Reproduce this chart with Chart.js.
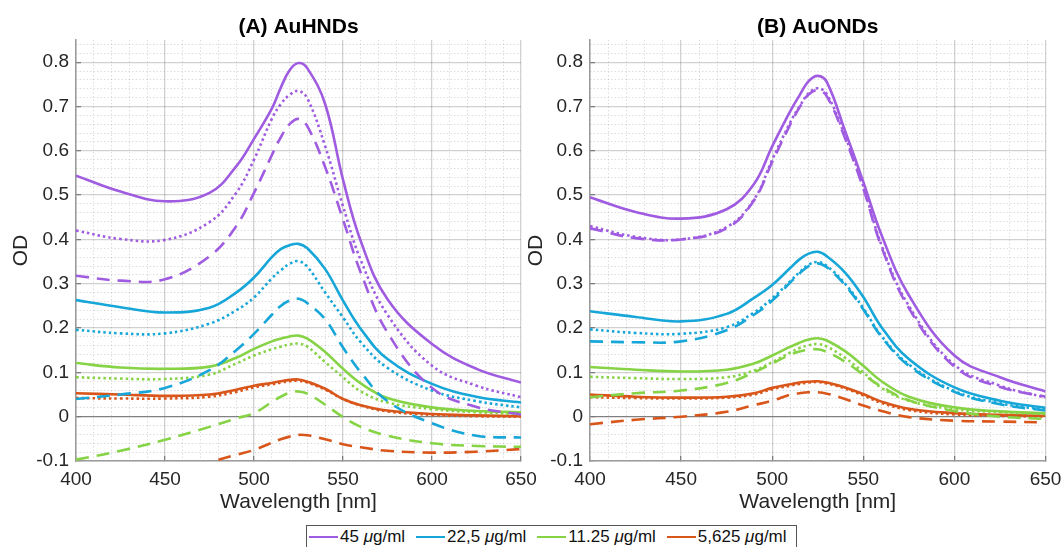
<!DOCTYPE html>
<html>
<head>
<meta charset="utf-8">
<script src="https://cdn.jsdelivr.net/npm/chart.js@4.4.1/dist/chart.umd.min.js"></script>
<style>
  body { margin: 0; background: #fff; }
  #wrap { position: relative; width: 1062px; height: 547px; overflow: hidden; font-family: "Liberation Sans", Arial, sans-serif; }
  #left { position: absolute; left: 0; top: 0; }
  #right { position: absolute; left: 515px; top: 0; }
  #legend { position: absolute; left: 306px; top: 525px; width: 491px; height: 24px; border: 1px solid #555; background: #fff;
            display: flex; align-items: center; font-size: 17px; color: #111; box-sizing: border-box; padding-left: 2px; }
  .item { display: flex; align-items: center; margin-right: 11px; white-space: nowrap; }
  .swatch { width: 29px; height: 0; border-top: 2.6px solid; margin-right: 2px; }
</style>
</head>
<body>
<div id="wrap">
  <canvas id="left" width="555" height="520"></canvas>
  <canvas id="right" width="565" height="520"></canvas>
  <div id="legend"></div>
</div>
<script>
// wavelength samples (nm)
const wavelength = [400,425,450,475,490,500,510,515,520,525,530,540,550,560,575,600,625,650];
const xTicks = [400,450,500,550,600,650];
const yTicks = [-0.1,0,0.1,0.2,0.3,0.4,0.5,0.6,0.7,0.8];
const concLabels = ["45", "22,5", "11.25", "5,625"];
const colors = ["#a05ce0", "#17a6d8", "#86d346", "#d9561b"];

// (A) AuHNDs : solid, dotted, dashed
const a45s    = [0.544,0.508,0.486,0.505,0.565,0.627,0.695,0.742,0.782,0.798,0.786,0.705,0.535,0.396,0.265,0.164,0.108,0.077];
const a45d    = [0.42,0.401,0.399,0.439,0.505,0.58,0.672,0.705,0.726,0.735,0.718,0.61,0.475,0.353,0.23,0.115,0.07,0.044];
const a45dash = [0.318,0.307,0.31,0.362,0.43,0.505,0.59,0.63,0.66,0.672,0.655,0.563,0.445,0.325,0.19,0.065,0.022,0.005];
const a22s    = [0.263,0.247,0.235,0.246,0.28,0.314,0.36,0.378,0.387,0.39,0.38,0.333,0.262,0.198,0.13,0.074,0.045,0.032];
const a22d    = [0.196,0.188,0.188,0.21,0.24,0.269,0.312,0.33,0.345,0.351,0.338,0.28,0.224,0.168,0.11,0.059,0.035,0.021];
const a22dash = [0.04,0.05,0.065,0.105,0.15,0.187,0.23,0.25,0.262,0.266,0.256,0.22,0.156,0.10,0.035,-0.015,-0.043,-0.047];
const a11s    = [0.121,0.111,0.108,0.113,0.133,0.153,0.17,0.176,0.181,0.183,0.176,0.146,0.108,0.075,0.042,0.021,0.013,0.01];
const a11d    = [0.089,0.086,0.085,0.095,0.12,0.138,0.152,0.158,0.163,0.165,0.158,0.123,0.089,0.057,0.032,0.017,0.01,0.006];
const a11dash = [-0.097,-0.077,-0.052,-0.023,-0.004,0.008,0.033,0.045,0.054,0.057,0.052,0.027,-0.001,-0.023,-0.043,-0.06,-0.066,-0.068];
const a5s     = [0.053,0.05,0.047,0.05,0.061,0.07,0.076,0.08,0.083,0.084,0.079,0.063,0.04,0.026,0.014,0.006,0.003,0.001];
const a5d     = [0.042,0.041,0.041,0.045,0.056,0.066,0.073,0.077,0.08,0.081,0.077,0.061,0.04,0.025,0.012,0.004,0.001,0.0];
const a5dash  = [-0.18,-0.155,-0.13,-0.103,-0.086,-0.075,-0.059,-0.051,-0.045,-0.041,-0.042,-0.051,-0.062,-0.069,-0.077,-0.081,-0.079,-0.073];

// (B) AuONDs : solid, dotted, dashed
const b45s    = [0.495,0.462,0.447,0.468,0.525,0.61,0.69,0.725,0.757,0.769,0.755,0.645,0.53,0.41,0.274,0.138,0.089,0.057];
const b45d    = [0.43,0.406,0.40,0.428,0.49,0.58,0.665,0.70,0.73,0.741,0.728,0.633,0.52,0.387,0.25,0.117,0.07,0.043];
const b45dash = [0.425,0.403,0.40,0.425,0.488,0.575,0.66,0.698,0.727,0.737,0.723,0.628,0.515,0.383,0.245,0.113,0.067,0.045];
const b22s    = [0.238,0.225,0.215,0.232,0.268,0.297,0.336,0.355,0.368,0.372,0.362,0.325,0.27,0.202,0.13,0.066,0.036,0.02];
const b22d    = [0.197,0.189,0.187,0.202,0.235,0.267,0.306,0.326,0.343,0.349,0.34,0.3,0.245,0.182,0.118,0.058,0.03,0.016];
const b22dash = [0.17,0.168,0.17,0.195,0.23,0.262,0.303,0.323,0.34,0.346,0.337,0.297,0.242,0.18,0.115,0.056,0.028,0.014];
const b11s    = [0.112,0.106,0.102,0.106,0.12,0.138,0.158,0.167,0.174,0.177,0.172,0.148,0.115,0.08,0.045,0.021,0.012,0.008];
const b11d    = [0.09,0.087,0.085,0.089,0.104,0.123,0.145,0.155,0.161,0.164,0.158,0.133,0.1,0.065,0.036,0.017,0.01,0.006];
const b11dash = [0.044,0.053,0.059,0.076,0.1,0.12,0.14,0.147,0.151,0.152,0.146,0.124,0.095,0.068,0.037,0.013,0.0,-0.005];
const b5s     = [0.05,0.045,0.043,0.045,0.053,0.065,0.073,0.077,0.079,0.08,0.077,0.066,0.051,0.034,0.018,0.008,0.004,0.002];
const b5d     = [0.044,0.042,0.041,0.043,0.05,0.062,0.07,0.074,0.077,0.078,0.075,0.064,0.048,0.031,0.015,0.005,0.002,0.0];
const b5dash  = [-0.017,-0.007,0.0,0.011,0.026,0.036,0.05,0.053,0.055,0.055,0.052,0.04,0.025,0.013,-0.001,-0.009,-0.011,-0.013];

const groupsA = [[a45s,a45d,a45dash],[a22s,a22d,a22dash],[a11s,a11d,a11dash],[a5s,a5d,a5dash]];
const groupsB = [[b45s,b45d,b45dash],[b22s,b22d,b22dash],[b11s,b11d,b11dash],[b5s,b5d,b5dash]];

const FONT = '"Liberation Sans", Arial, sans-serif';
const dashes = [[], [2.5, 3], [13, 8]];

// minor grid positions
let xMinor = [];
for (let v = 400; v <= 650; v += 10) xMinor.push(v);
let yMinor = [];
for (let i = -5; i <= 42; i++) yMinor.push(i / 50);

const buildSets = (groups) => {
  let sets = [];
  groups.forEach((g, ci) => {
    g.forEach((vals, si) => {
      sets.push({
        data: wavelength.map((w, i) => ({x: w, y: vals[i]})),
        borderColor: colors[ci],
        borderWidth: 2.6,
        borderDash: dashes[si],
        pointRadius: 0,
        tension: 0.4,
        fill: false,
        xAxisID: "x",
        yAxisID: "y",
      });
    });
  });
  return sets;
};

const newChart = (id, title, groups, yWidth, padRight) => {
  return new Chart(id, {
    type: "line",
    data: { datasets: buildSets(groups) },
    options: {
      responsive: false,
      animation: false,
      layout: { padding: { left: 0, right: padRight, top: 0, bottom: 0 } },
      plugins: {
        legend: { display: false },
        tooltip: { enabled: false },
        title: {
          display: true, text: title, fullSize: false, color: "#000",
          font: { family: FONT, size: 21, weight: "bold" },
          padding: { top: 14.4, bottom: 0.4 },
        },
      },
      scales: {
        xm: {
          type: "linear", position: "bottom", min: 400, max: 650,
          afterBuildTicks: (s) => { s.ticks = xMinor.map((v) => ({value: v})); },
          ticks: { display: false },
          grid: { color: (c) => (c.tick && c.tick.value % 50 === 0 ? "rgba(0,0,0,0)" : "rgba(0,0,0,0.13)"), lineWidth: 1, drawTicks: false },
          border: { display: false, dash: [1.5, 2] },
          afterFit: (s) => { s.height = 0; },
        },
        ym: {
          type: "linear", position: "left", min: -0.1, max: 0.85,
          afterBuildTicks: (s) => { s.ticks = yMinor.map((v) => ({value: v})); },
          ticks: { display: false },
          grid: { color: (c) => (c.tick && Math.abs(c.tick.value * 10 - Math.round(c.tick.value * 10)) < 1e-6 ? "rgba(0,0,0,0)" : "rgba(0,0,0,0.13)"), lineWidth: 1, drawTicks: false },
          border: { display: false, dash: [1.5, 2] },
          afterFit: (s) => { s.width = 0; },
        },
        x: {
          type: "linear", position: "bottom", min: 400, max: 650,
          afterBuildTicks: (s) => { s.ticks = xTicks.map((v) => ({value: v})); },
          ticks: { color: "#262626", font: { family: FONT, size: 19 }, padding: 12, maxRotation: 0, autoSkip: false, callback: (v) => v },
          grid: { color: "rgba(0,0,0,0.18)", lineWidth: 1.3, drawTicks: true, tickLength: -5, tickColor: "#777", tickWidth: 1.2 },
          border: { color: "#9a9a9a", width: 1.5 },
          title: { display: true, text: "Wavelength [nm]", color: "#262626", font: { family: FONT, size: 21 }, padding: { top: 0, bottom: 5 } },
          afterFit: (s) => { s.height = 59; },
        },
        y: {
          type: "linear", position: "left", min: -0.1, max: 0.85,
          afterBuildTicks: (s) => { s.ticks = yTicks.map((v) => ({value: v})); },
          ticks: { color: "#262626", font: { family: FONT, size: 19 }, padding: 12, autoSkip: false,
                   callback: (v) => (Math.abs(v) < 1e-9 ? "0" : v.toFixed(1)) },
          grid: {
            color: (c) => (c.tick && Math.abs(c.tick.value) < 1e-9 ? "#808080" : "rgba(0,0,0,0.18)"),
            lineWidth: 1.3, drawTicks: true, tickLength: -5, tickColor: "#777", tickWidth: 1.2,
          },
          border: { color: "#9a9a9a", width: 1.5 },
          title: { display: true, text: "OD", color: "#262626", font: { family: FONT, size: 21 }, padding: { top: 8.4, bottom: 0 } },
          afterFit: (s) => { s.width = yWidth; },
        },
      },
    },
  });
};

// canvas widths leave room so that the "650" label never pushes the plot area in
newChart("left", "(A) AuHNDs", groupsA, 76, 34);
newChart("right", "(B) AuONDs", groupsB, 75, 34.5);

// figure legend
const leg = document.getElementById("legend");
concLabels.forEach((lab, i) => {
  const it = document.createElement("div");
  it.className = "item";
  it.innerHTML = `<span class="swatch" style="border-color:${colors[i]}"></span><span>${lab} <i>&mu;</i>g/ml</span>`;
  leg.appendChild(it);
});
</script>
</body>
</html>
